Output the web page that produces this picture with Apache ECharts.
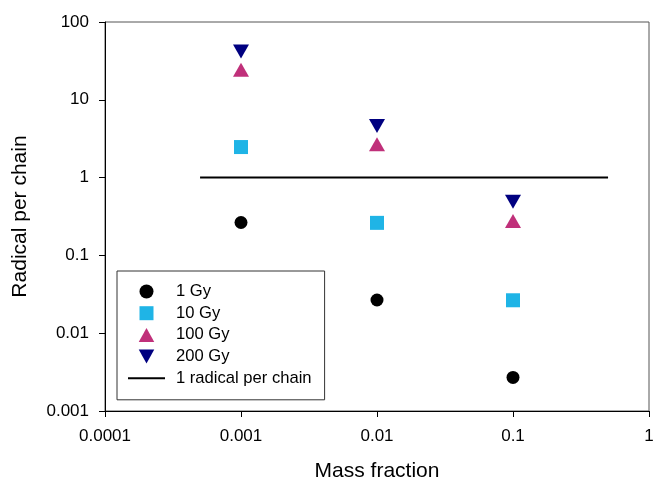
<!DOCTYPE html>
<html>
<head>
<meta charset="utf-8">
<script src="https://cdn.jsdelivr.net/npm/echarts@6/dist/echarts.min.js"></script>
<style>html,body{margin:0;padding:0;background:#fff;}#c{width:654px;height:480px;}</style>
</head>
<body>
<div id="c"></div>
<script>
const massFraction = [0.001, 0.01, 0.1];
const gy1 = [0.265, 0.0267, 0.0027];
const gy10 = [2.47, 0.262, 0.0265];
const gy100 = [24.4, 2.68, 0.277];
const gy200 = [41.8, 4.6, 0.49];
const lineX = [0.0005, 0.5];
const lineY = [1, 1];
const xTickLabels = ['0.0001', '0.001', '0.01', '0.1', '1'];
const yTickLabels = ['0.001', '0.01', '0.1', '1', '10', '100'];

function pairs(xs, ys) { return xs.map((x, i) => [x, ys[i]]); }
function fmt(labels, min) {
  return function (v) {
    const i = Math.round(Math.log10(v) - Math.log10(min));
    return labels[i] !== undefined ? labels[i] : '';
  };
}
const font = 'Liberation Sans, Arial, sans-serif';
const cSq = '#1fb4e6', cUp = '#c0307a', cDown = '#000080';
const chart = echarts.init(document.getElementById('c'));
chart.setOption({
  animation: false,
  textStyle: { fontFamily: font },
  grid: { left: 105, right: 5, top: 22, bottom: 69, show: true, borderColor: '#555', borderWidth: 1, containLabel: false, outerBoundsMode: 'none' },
  xAxis: {
    type: 'log', logBase: 10, min: 0.0001, max: 1,
    name: 'Mass fraction', nameLocation: 'middle', nameGap: 50,
    nameTextStyle: { fontSize: 21, color: '#000', fontFamily: font },
    axisLine: { lineStyle: { color: '#000', width: 1 } },
    axisTick: { show: true, length: 6, lineStyle: { color: '#000' } },
    axisLabel: { fontSize: 17, color: '#000', margin: 17, formatter: fmt(xTickLabels, 0.0001), fontFamily: font },
    splitLine: { show: false }, minorTick: { show: false }
  },
  yAxis: {
    type: 'log', logBase: 10, min: 0.001, max: 100,
    name: 'Radical per chain', nameLocation: 'middle', nameGap: 74,
    nameTextStyle: { fontSize: 21, color: '#000', fontFamily: font },
    axisLine: { lineStyle: { color: '#000', width: 1 } },
    axisTick: { show: true, length: 6, lineStyle: { color: '#000' } },
    axisLabel: { fontSize: 17, color: '#000', margin: 16, formatter: fmt(yTickLabels, 0.001), fontFamily: font },
    splitLine: { show: false }, minorTick: { show: false }
  },
  legend: {
    orient: 'vertical', left: 117, top: 271,
    backgroundColor: '#fff',
    borderColor: '#333', borderWidth: 1,
    padding: [12, 13, 13, 11],
    itemWidth: 37, itemHeight: 14, itemGap: 4.7,
    symbolKeepAspect: true,
    textStyle: { fontSize: 16.6, lineHeight: 16, color: '#000', fontFamily: font, padding: [0, 0, 0, 6] },
    data: [
      { name: '1 Gy', icon: 'circle', itemStyle: { color: '#000', opacity: 1 } },
      { name: '10 Gy', icon: 'path://M0,0 L10,0 L10,10 L0,10 Z', itemStyle: { color: cSq, opacity: 1 } },
      { name: '100 Gy', icon: 'path://M5,0 L10,9 L0,9 Z', itemStyle: { color: cUp, opacity: 1 } },
      { name: '200 Gy', icon: 'path://M0,0 L10,0 L5,9 Z', itemStyle: { color: cDown, opacity: 1 } },
      { name: '1 radical per chain', icon: 'path://M0,0 L37,0 L37,2 L0,2 Z', itemStyle: { color: '#000', opacity: 1 } }
    ]
  },
  series: [
    { name: '1 radical per chain', type: 'line', data: pairs(lineX, lineY), symbol: 'none', lineStyle: { color: '#000', width: 2 }, itemStyle: { color: '#000' }, z: 1 },
    { name: '1 Gy', type: 'scatter', data: pairs(massFraction, gy1), symbol: 'circle', symbolSize: 13, itemStyle: { color: '#000', opacity: 1 } },
    { name: '10 Gy', type: 'scatter', data: pairs(massFraction, gy10), symbol: 'rect', symbolSize: 14, itemStyle: { color: cSq, opacity: 1 } },
    { name: '100 Gy', type: 'scatter', data: pairs(massFraction, gy100), symbol: 'path://M5,0 L10,9 L0,9 Z', symbolSize: [16, 14], itemStyle: { color: cUp, opacity: 1 } },
    { name: '200 Gy', type: 'scatter', data: pairs(massFraction, gy200), symbol: 'path://M0,0 L10,0 L5,9 Z', symbolSize: [16, 14], itemStyle: { color: cDown, opacity: 1 } }
  ]
});
</script>
</body>
</html>
